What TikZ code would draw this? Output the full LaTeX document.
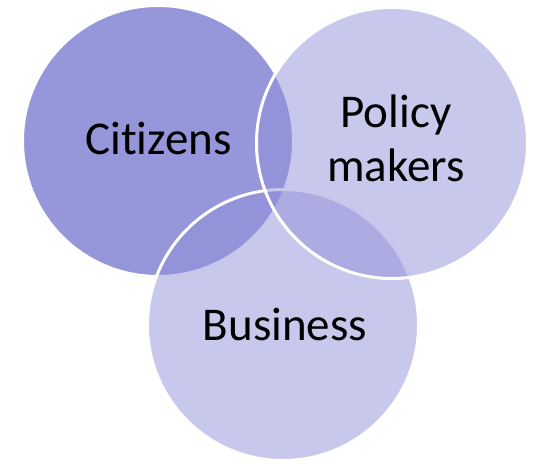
\documentclass[tikz,border=0pt]{standalone}
\usepackage{fontspec}
\setmainfont[Ligatures=NoCommon]{Carlito}
\usepackage{tikz}
\usetikzlibrary{calc}

\definecolor{citfill}{RGB}{150,151,218}
\definecolor{setfill}{RGB}{145,145,217}

\tikzset{
  setcircle/.style={fill=setfill, fill opacity=0.5, draw=white, draw opacity=1, line width=3pt},
  setlabel/.style={font=\fontsize{47}{54}\selectfont, text=black, inner sep=0pt, align=center, anchor=base}
}

\begin{document}
\begin{tikzpicture}[x=1pt,y=-1pt]
        \useasboundingbox (0,0) rectangle (541,465);
        % Centres of the three sets
        \coordinate (C) at (158,141); % Citizens
        \coordinate (P) at (392,143); % Policy makers
        \coordinate (B) at (283,325); % Business
        % Drawing the sets, Citizens at the back
        \draw[fill=citfill,draw=white,line width=3pt] (C) circle (135.5pt);
        \draw[setcircle] (B) circle (135.5pt);
        \draw[setcircle] (P) circle (135.5pt);
        % Labels (base is the last line)
        \node[setlabel] (citizens) at (158.5,155) {Citizens};
        \node[setlabel] (policy) at (396,182) {Policy\\makers};
        \node[setlabel] (business) at (285,340) {Business};
    \end{tikzpicture}
\end{document}
